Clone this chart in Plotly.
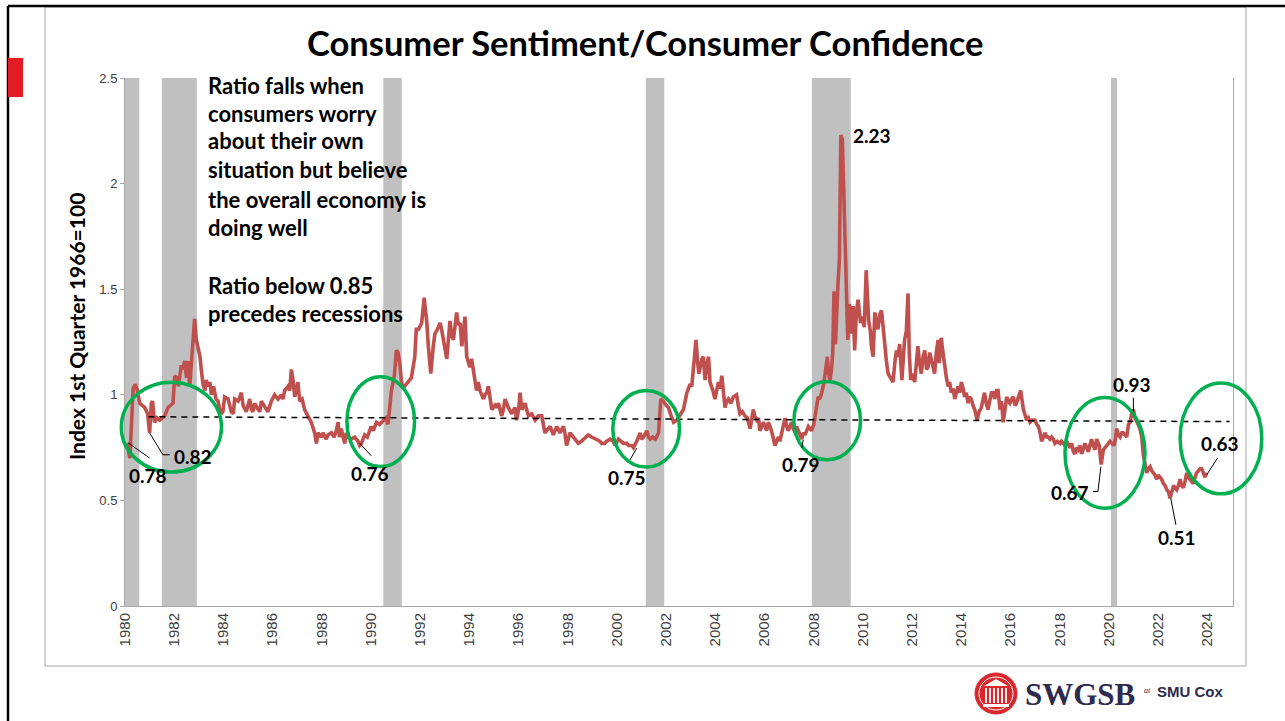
import plotly.graph_objects as go

# ---------------- data ----------------
years = [
    1980.08, 1980.20, 1980.33, 1980.42, 1980.50, 1980.60, 1980.70, 1980.80, 1980.92,
    1981.00, 1981.07, 1981.12, 1981.20, 1981.30, 1981.41, 1981.50, 1981.61, 1981.75, 1981.88, 1981.95,
    1982.02, 1982.10, 1982.17, 1982.29, 1982.35, 1982.43, 1982.50, 1982.56, 1982.63, 1982.70, 1982.76, 1982.83, 1982.90, 1982.97,
    1983.05, 1983.10, 1983.17, 1983.25, 1983.30, 1983.38, 1983.45, 1983.51, 1983.60, 1983.70, 1983.78, 1983.85, 1983.92,
    1983.98, 1984.05, 1984.19, 1984.32, 1984.40, 1984.46, 1984.60, 1984.73, 1984.80, 1984.93,
    1985.07, 1985.14, 1985.20, 1985.27, 1985.41, 1985.48, 1985.54, 1985.68, 1985.81, 1985.95,
    1986.08, 1986.22, 1986.35, 1986.42, 1986.49, 1986.63, 1986.70, 1986.76, 1986.83, 1986.90,
    1987.03, 1987.10, 1987.20, 1987.30, 1987.44, 1987.57, 1987.71, 1987.78, 1987.85, 1987.98,
    1988.05, 1988.18, 1988.25, 1988.39, 1988.50, 1988.59, 1988.66, 1988.72, 1988.79, 1988.93,
    1989.00, 1989.07, 1989.20, 1989.34, 1989.47, 1989.54, 1989.61, 1989.74, 1989.85,
    1990.01, 1990.10, 1990.22, 1990.35, 1990.49, 1990.60, 1990.69, 1990.76, 1990.83, 1990.95,
    1991.03, 1991.10, 1991.17, 1991.23, 1991.30, 1991.43, 1991.55, 1991.64, 1991.78, 1991.84, 1991.93,
    1992.06, 1992.16, 1992.27, 1992.33, 1992.43, 1992.53, 1992.60, 1992.70, 1992.81, 1992.87,
    1993.00, 1993.08, 1993.21, 1993.28, 1993.35, 1993.48, 1993.55, 1993.62, 1993.69, 1993.82, 1993.89,
    1994.02, 1994.09, 1994.23, 1994.29, 1994.36, 1994.43, 1994.57, 1994.63, 1994.70, 1994.77, 1994.91,
    1995.04, 1995.10, 1995.18, 1995.31, 1995.38, 1995.45, 1995.58, 1995.72, 1995.85, 1995.92,
    1996.00, 1996.06, 1996.13, 1996.26, 1996.33, 1996.40, 1996.53, 1996.67, 1996.80, 1996.94,
    1997.07, 1997.20, 1997.28, 1997.41, 1997.55, 1997.68, 1997.82, 1997.88, 1997.95,
    1998.09, 1998.22, 1998.43, 1998.55, 1998.63, 1998.75, 1998.83, 1998.97,
    1999.17, 1999.30, 1999.38, 1999.50, 1999.58, 1999.72, 1999.85, 1999.92,
    2000.06, 2000.15, 2000.26, 2000.40, 2000.47, 2000.60, 2000.67, 2000.80, 2000.94,
    2001.00, 2001.08, 2001.21, 2001.28, 2001.35, 2001.45, 2001.56, 2001.69, 2001.78, 2001.89,
    2002.00, 2002.09, 2002.20, 2002.30, 2002.43, 2002.57, 2002.70, 2002.84, 2002.97,
    2003.04, 2003.11, 2003.21, 2003.28, 2003.33, 2003.45, 2003.51, 2003.58, 2003.64, 2003.72, 2003.78, 2003.90, 2003.98,
    2004.05, 2004.12, 2004.19, 2004.26, 2004.39, 2004.46, 2004.53, 2004.63, 2004.73, 2004.86, 2004.93,
    2005.00, 2005.10, 2005.20, 2005.30, 2005.41, 2005.54, 2005.60, 2005.68, 2005.75, 2005.81, 2005.95,
    2006.08, 2006.15, 2006.22, 2006.30, 2006.42, 2006.50, 2006.56, 2006.62, 2006.69, 2006.75, 2006.83, 2006.90, 2006.96,
    2007.03, 2007.10, 2007.17, 2007.24, 2007.30, 2007.37, 2007.44, 2007.51, 2007.58, 2007.64, 2007.71, 2007.78, 2007.85, 2007.91,
    2008.00, 2008.05, 2008.12, 2008.18, 2008.25, 2008.32, 2008.40, 2008.46, 2008.55, 2008.60, 2008.66, 2008.72, 2008.77, 2008.82, 2008.88, 2008.98,
    2009.04, 2009.10, 2009.16, 2009.38, 2009.45, 2009.55, 2009.60, 2009.66, 2009.73, 2009.80, 2009.90, 2009.97,
    2010.05, 2010.13, 2010.23, 2010.30, 2010.34, 2010.41, 2010.48, 2010.55, 2010.61, 2010.68, 2010.75, 2010.81, 2010.88, 2010.95,
    2011.02, 2011.10, 2011.22, 2011.30, 2011.36, 2011.42, 2011.49, 2011.58, 2011.64, 2011.69, 2011.76, 2011.83, 2011.88, 2011.94,
    2012.02, 2012.10, 2012.17, 2012.23, 2012.30, 2012.37, 2012.44, 2012.51, 2012.58, 2012.64, 2012.71, 2012.78, 2012.85, 2012.91, 2012.98,
    2013.05, 2013.10, 2013.18, 2013.25, 2013.32, 2013.39, 2013.46, 2013.52, 2013.59, 2013.66, 2013.73, 2013.80, 2013.86, 2013.93,
    2014.00, 2014.07, 2014.13, 2014.20, 2014.27, 2014.33, 2014.40, 2014.47, 2014.54, 2014.64, 2014.72, 2014.81, 2014.88, 2014.94,
    2015.01, 2015.08, 2015.15, 2015.22, 2015.30, 2015.35, 2015.43, 2015.49, 2015.57, 2015.63, 2015.70, 2015.77, 2015.84, 2015.90, 2015.97,
    2016.04, 2016.11, 2016.18, 2016.24, 2016.32, 2016.41, 2016.47, 2016.52, 2016.60, 2016.65, 2016.72, 2016.79, 2016.87, 2016.99,
    2017.06, 2017.13, 2017.20, 2017.26, 2017.33, 2017.40, 2017.47, 2017.53, 2017.60, 2017.67, 2017.74, 2017.80, 2017.90,
    2018.01, 2018.07, 2018.14, 2018.21, 2018.28, 2018.35, 2018.41, 2018.48, 2018.55, 2018.62, 2018.68, 2018.75, 2018.82, 2018.89, 2018.95,
    2019.02, 2019.09, 2019.16, 2019.22, 2019.29, 2019.36, 2019.43, 2019.50, 2019.55, 2019.60, 2019.68, 2019.73, 2019.77, 2019.84, 2019.90, 2019.97,
    2020.04, 2020.12, 2020.20, 2020.26, 2020.31, 2020.38, 2020.45, 2020.52, 2020.58, 2020.65, 2020.72, 2020.79, 2020.86, 2020.92, 2020.99,
    2021.06, 2021.13, 2021.20, 2021.26, 2021.33, 2021.40, 2021.47, 2021.53, 2021.60, 2021.67, 2021.74, 2021.80, 2021.87, 2021.94,
    2022.00, 2022.07, 2022.14, 2022.21, 2022.28, 2022.35, 2022.42, 2022.48, 2022.55, 2022.62, 2022.68, 2022.75, 2022.82, 2022.89, 2022.95,
    2023.02, 2023.09, 2023.16, 2023.22, 2023.29, 2023.36, 2023.43, 2023.50, 2023.56, 2023.63, 2023.70, 2023.77, 2023.84, 2023.90, 2023.97,
]

ratio = [
    0.77, 0.70, 1.03, 1.05, 1.02, 0.96, 0.95, 0.94, 0.91,
    0.82, 0.96, 0.97, 0.87, 0.89, 0.88, 0.89, 0.90, 0.94, 0.95, 0.96,
    1.09, 1.08, 1.04, 1.14, 1.12, 1.16, 1.08, 1.16, 1.04, 1.15, 1.23, 1.36, 1.26, 1.23,
    1.18, 1.12, 1.05, 1.02, 1.07, 1.04, 1.06, 1.00, 1.04, 0.98, 0.97, 0.93, 0.91,
    0.92, 0.99, 0.98, 0.92, 0.91, 0.98, 0.97, 1.01, 0.95, 0.92,
    0.98, 0.93, 0.92, 0.96, 0.93, 0.92, 0.97, 0.94, 0.92, 0.97,
    1.00, 0.98, 1.00, 0.98, 1.02, 1.04, 1.02, 1.12, 1.07, 0.99,
    1.06, 0.97, 0.98, 0.93, 0.90, 0.87, 0.82, 0.77, 0.82, 0.80,
    0.82, 0.79, 0.81, 0.82, 0.80, 0.83, 0.87, 0.80, 0.84, 0.77,
    0.82, 0.80, 0.79, 0.80, 0.78, 0.76, 0.77, 0.81, 0.80,
    0.85, 0.83, 0.87, 0.86, 0.88, 0.89, 0.86, 0.95, 1.02, 1.09,
    1.21, 1.20, 1.15, 1.07, 1.03, 1.05, 1.07, 1.08, 1.18, 1.31, 1.31,
    1.34, 1.46, 1.34, 1.23, 1.10, 1.23, 1.29, 1.31, 1.34, 1.31,
    1.21, 1.17, 1.35, 1.28, 1.26, 1.39, 1.33, 1.34, 1.23, 1.37, 1.18,
    1.13, 1.17, 1.05, 1.02, 1.06, 1.02, 0.98, 1.00, 1.01, 1.04, 0.93,
    0.95, 0.94, 0.96, 0.90, 0.93, 0.98, 0.94, 0.91, 0.94, 0.88,
    0.93, 1.01, 0.93, 0.96, 0.93, 0.90, 0.91, 0.88, 0.90, 0.90,
    0.82, 0.84, 0.85, 0.81, 0.85, 0.82, 0.85, 0.82, 0.76,
    0.82, 0.80, 0.77, 0.78, 0.79, 0.80, 0.81, 0.80,
    0.79, 0.78, 0.77, 0.77, 0.78, 0.79, 0.78, 0.76,
    0.79, 0.78, 0.77, 0.77, 0.76, 0.76, 0.75, 0.78, 0.82,
    0.79, 0.80, 0.83, 0.80, 0.79, 0.80, 0.79, 0.82, 0.98, 0.97,
    0.95, 0.94, 0.90, 0.87, 0.88, 0.91, 0.93, 1.01, 1.05,
    1.04, 1.13, 1.26, 1.15, 1.10, 1.17, 1.18, 1.07, 1.14, 1.18, 1.06, 1.02, 0.98,
    1.02, 1.06, 1.03, 1.09, 0.94, 0.97, 0.98, 0.96, 0.99, 1.00, 0.95,
    0.91, 0.92, 0.90, 0.89, 0.84, 0.93, 0.90, 0.88, 0.89, 0.83, 0.87,
    0.83, 0.87, 0.85, 0.82, 0.76, 0.79, 0.80, 0.78, 0.82, 0.84, 0.89, 0.85, 0.83,
    0.85, 0.87, 0.84, 0.82, 0.85, 0.83, 0.81, 0.79, 0.82, 0.81, 0.83, 0.85, 0.84, 0.83,
    0.86, 0.91, 0.95, 0.99, 0.98, 1.01, 1.05, 1.10, 1.18, 1.10, 1.07, 1.12, 1.20, 1.49, 1.24, 1.52,
    1.64, 2.23, 2.21, 1.26, 1.43, 1.29, 1.42, 1.21, 1.39, 1.45, 1.34, 1.37,
    1.32, 1.59, 1.35, 1.30, 1.23, 1.18, 1.39, 1.34, 1.31, 1.38, 1.40, 1.33, 1.23, 1.16,
    1.10, 1.08, 1.06, 1.16, 1.21, 1.18, 1.24, 1.07, 1.15, 1.26, 1.30, 1.48, 1.20, 1.07,
    1.10, 1.06, 1.15, 1.23, 1.15, 1.10, 1.18, 1.21, 1.12, 1.13, 1.20, 1.16, 1.12, 1.10, 1.20,
    1.26, 1.15, 1.27, 1.20, 1.13, 1.08, 1.04, 1.06, 1.01, 1.03, 0.98, 1.02, 1.04, 1.01,
    1.06, 1.03, 0.99, 1.01, 0.96, 0.99, 0.98, 0.95, 0.93, 0.88, 0.92, 0.94, 0.97, 1.01,
    0.96, 0.93, 0.97, 1.01, 1.01, 0.98, 1.02, 1.02, 0.93, 0.97, 0.87, 0.95, 0.99, 0.97, 0.96,
    0.98, 0.99, 0.95, 0.96, 0.99, 1.02, 0.97, 0.93, 0.90, 0.88, 0.89, 0.87, 0.88, 0.88,
    0.86, 0.85, 0.82, 0.78, 0.80, 0.82, 0.80, 0.80, 0.79, 0.80, 0.79, 0.77, 0.78,
    0.77, 0.78, 0.77, 0.76, 0.78, 0.76, 0.75, 0.77, 0.73, 0.72, 0.75, 0.74, 0.76, 0.72, 0.74,
    0.77, 0.75, 0.73, 0.76, 0.79, 0.76, 0.74, 0.79, 0.77, 0.76, 0.67, 0.72, 0.74, 0.75, 0.76, 0.77,
    0.78, 0.77, 0.76, 0.79, 0.84, 0.81, 0.80, 0.82, 0.82, 0.81, 0.80, 0.86, 0.87, 0.91, 0.93,
    0.89, 0.87, 0.85, 0.84, 0.80, 0.71, 0.67, 0.63, 0.65, 0.66, 0.64, 0.63, 0.62, 0.60,
    0.62, 0.61, 0.60, 0.58, 0.57, 0.55, 0.54, 0.51, 0.55, 0.57, 0.56, 0.55, 0.57, 0.60, 0.57,
    0.56, 0.59, 0.63, 0.61, 0.60, 0.59, 0.58, 0.61, 0.63, 0.64, 0.65, 0.65, 0.63, 0.61, 0.63,
]

trend_years = [1980.95, 2024.90]
trend_vals = [0.896, 0.873]

rec_start = [1980.00, 1981.50, 1990.50, 2001.17, 2007.92, 2020.08]
rec_end = [1980.58, 1982.92, 1991.25, 2001.92, 2009.50, 2020.33]

tick_years = list(range(1980, 2025, 2))
tick_text = [str(y) for y in tick_years]
y_ticks = [0, 0.5, 1, 1.5, 2, 2.5]
y_tick_text = ["0", "0.5", "1", "1.5", "2", "2.5"]

# callout labels: (text, label year, label value, leader points [(yr,val),...])
callouts = [
    ("0.78", 1980.93, 0.62, [(1980.12, 0.773), (1981.0, 0.701)]),
    ("0.82", 1982.76, 0.706, [(1981.0, 0.82), (1981.54, 0.716), (1981.82, 0.716)]),
    ("0.76", 1989.96, 0.626, [(1989.54, 0.771), (1990.01, 0.711)]),
    ("0.75", 2000.41, 0.607, [(2000.80, 0.747), (2000.53, 0.692)]),
    ("0.79", 2007.48, 0.668, [(2007.57, 0.787), (2007.51, 0.749)]),
    ("2.23", 2010.37, 2.227, []),
    ("0.67", 2018.41, 0.536, [(2019.67, 0.66), (2019.55, 0.542), (2019.35, 0.542)]),
    ("0.93", 2020.93, 1.047, [(2020.99, 0.986), (2020.99, 0.921)]),
    ("0.51", 2022.76, 0.322, [(2022.51, 0.51), (2022.72, 0.384)]),
    ("0.63", 2024.51, 0.768, [(2023.97, 0.621), (2024.41, 0.70)]),
]

# green highlight ellipses (year0, year1, val0, val1)
ellipses = [
    (1979.85, 1983.92, 0.634, 1.06),
    (1989.02, 1991.77, 0.66, 1.086),
    (1999.83, 2002.54, 0.658, 1.02),
    (2007.19, 2009.90, 0.692, 1.063),
    (2018.21, 2021.46, 0.463, 0.987),
    (2022.89, 2026.21, 0.531, 1.056),
]

note_lines = ["Ratio falls when", "consumers worry", "about their own",
              "situation but believe", "the overall economy is", "doing well", "",
              "Ratio below 0.85", "precedes recessions"]

# ---------------- geometry ----------------
W, H = 1285, 721
PL, PR, PT, PB = 125, 1233, 78, 606
X0, X1 = 1980.0, 2025.04
Y0, Y1 = 0.0, 2.5


def pxx(x):
    return (x - PL) / (PR - PL)


def pxy(y):
    return (PB - y) / (PB - PT)


def dx(t):
    return (t - X0) / (X1 - X0)


def dy(v):
    return (v - Y0) / (Y1 - Y0)


fig = go.Figure()

fig.add_trace(go.Scatter(x=years, y=ratio, mode="lines",
                         line=dict(color="#C0504D", width=3.6), hoverinfo="skip"))
fig.add_trace(go.Scatter(x=trend_years, y=trend_vals, mode="lines",
                         line=dict(color="black", width=1.5, dash="6px,5px"), hoverinfo="skip"))

shapes = []
for a, b in zip(rec_start, rec_end):
    shapes.append(dict(type="rect", xref="x", yref="y", x0=a, x1=b, y0=0, y1=2.5,
                       fillcolor="#C0C0C0", line=dict(width=0), layer="below"))

for (a, b, c, d) in ellipses:
    shapes.append(dict(type="circle", xref="paper", yref="paper",
                       x0=dx(a), x1=dx(b), y0=dy(c), y1=dy(d),
                       line=dict(color="#00B050", width=3.5)))

annotations = []
lab_font = dict(family="Lato, Open Sans, sans-serif", size=19, color="black")
for text, lx, ly, pts in callouts:
    annotations.append(dict(x=lx, y=ly, xref="x", yref="y", text="<b>%s</b>" % text,
                            showarrow=False, font=lab_font, xanchor="center", yanchor="middle"))
    for (p, q) in zip(pts[:-1], pts[1:]):
        shapes.append(dict(type="line", xref="paper", yref="paper",
                           x0=dx(p[0]), y0=dy(p[1]), x1=dx(q[0]), y1=dy(q[1]),
                           line=dict(color="black", width=1)))

# chart frame and slide decorations
shapes.append(dict(type="rect", xref="paper", yref="paper", x0=pxx(45), x1=pxx(1246),
                   y0=pxy(666), y1=pxy(7), line=dict(color="#A6A6A6", width=1), layer="below"))
shapes.append(dict(type="line", xref="paper", yref="paper", x0=pxx(8), x1=pxx(8),
                   y0=pxy(6), y1=pxy(721), line=dict(color="black", width=2.5)))
shapes.append(dict(type="line", xref="paper", yref="paper", x0=pxx(8), x1=pxx(1285),
                   y0=pxy(6), y1=pxy(6), line=dict(color="black", width=2.5)))
shapes.append(dict(type="rect", xref="paper", yref="paper", x0=pxx(8), x1=pxx(23),
                   y0=pxy(97), y1=pxy(58), fillcolor="#E31B23", line=dict(width=0)))

# logo
shapes.append(dict(type="circle", xref="paper", yref="paper", x0=pxx(975), x1=pxx(1017),
                   y0=pxy(714), y1=pxy(673), fillcolor="#D9272E", line=dict(color="#D9272E", width=1)))
shapes.append(dict(type="circle", xref="paper", yref="paper", x0=pxx(979), x1=pxx(1013),
                   y0=pxy(710), y1=pxy(677), line=dict(color="white", width=1)))
shapes.append(dict(type="path", xref="paper", yref="paper",
                   path="M %f %f L %f %f L %f %f Z" % (pxx(984), pxy(686), pxx(996), pxy(679), pxx(1008), pxy(686)),
                   fillcolor="white", line=dict(width=0)))
for cx in [986, 990, 994, 998, 1002, 1006]:
    shapes.append(dict(type="rect", xref="paper", yref="paper", x0=pxx(cx - 0.9), x1=pxx(cx + 0.9),
                       y0=pxy(703), y1=pxy(688), fillcolor="white", line=dict(width=0)))
shapes.append(dict(type="rect", xref="paper", yref="paper", x0=pxx(983), x1=pxx(1009),
                   y0=pxy(707), y1=pxy(704), fillcolor="white", line=dict(width=0)))

annotations.append(dict(x=pxx(1080), y=pxy(694), xref="paper", yref="paper", text="<b>SWGSB</b>",
                        showarrow=False, font=dict(family="Liberation Serif, serif", size=31, color="#2E2B4F"),
                        xanchor="center", yanchor="middle"))
annotations.append(dict(x=pxx(1147), y=pxy(690), xref="paper", yref="paper", text="<i>at</i>",
                        showarrow=False, font=dict(family="Liberation Serif, serif", size=8, color="#2E2B4F"),
                        xanchor="center", yanchor="middle"))
annotations.append(dict(x=pxx(1155), y=pxy(691), xref="paper", yref="paper", text="<b>SMU Cox</b>",
                        showarrow=False, font=dict(family="Liberation Sans, Arial, sans-serif", size=15, color="#2E2B4F"),
                        xanchor="left", yanchor="middle"))

# title
annotations.append(dict(x=pxx(645), y=pxy(42), xref="paper", yref="paper",
                        text="<b>Consumer Sentiment/Consumer Confidence</b>", showarrow=False,
                        font=dict(family="Lato, Open Sans, sans-serif", size=34.5, color="black"),
                        xanchor="center", yanchor="middle"))
# y-axis title
annotations.append(dict(x=pxx(76), y=pxy(327), xref="paper", yref="paper",
                        text="<b>Index 1st Quarter 1966=100</b>", showarrow=False, textangle=-90,
                        font=dict(family="Lato, Open Sans, sans-serif", size=21, color="black"),
                        xanchor="center", yanchor="middle"))
# note text block
note_y = [85, 113, 141, 170, 199, 227, 256, 285, 313]
for line, yy in zip(note_lines, note_y):
    if not line:
        continue
    annotations.append(dict(x=pxx(206), y=pxy(yy), xref="paper", yref="paper",
                            text="<b>%s</b>" % line, showarrow=False,
                            font=dict(family="Lato, Open Sans, sans-serif", size=22, color="black"),
                            xanchor="left", yanchor="middle"))

fig.update_layout(
    width=W, height=H,
    margin=dict(l=PL, r=W - PR, t=PT, b=H - PB, pad=0),
    paper_bgcolor="white", plot_bgcolor="white",
    showlegend=False,
    shapes=shapes, annotations=annotations,
    xaxis=dict(range=[X0, X1], tickmode="array", tickvals=tick_years, ticktext=tick_text,
               tickangle=-90, showgrid=False, zeroline=False, showline=True,
               linecolor="#A6A6A6", linewidth=1, ticks="",
               tickfont=dict(family="Liberation Sans, Arial, sans-serif", size=15, color="#404040")),
    yaxis=dict(range=[Y0, Y1], tickmode="array", tickvals=y_ticks, ticktext=y_tick_text,
               showgrid=False, zeroline=False, showline=True, mirror=True,
               linecolor="#A6A6A6", linewidth=1, ticks="outside", ticklen=4, tickcolor="#A6A6A6",
               tickfont=dict(family="Liberation Sans, Arial, sans-serif", size=13, color="#404040")),
)

fig.write_html("out.html", config={"displayModeBar": False},
               post_script="document.body.style.margin='0px';")
